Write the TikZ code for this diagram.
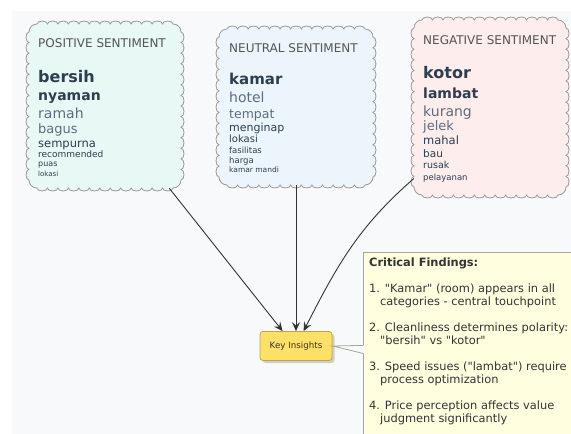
\documentclass[tikz,border=0pt]{standalone}
\usepackage{fontspec}
\setmainfont{DejaVu Sans}[Ligatures=TeXOff]
\usetikzlibrary{arrows.meta,shadows}

\definecolor{bggray}{HTML}{F8F9FA}
\definecolor{posfill}{HTML}{E8F8F5}
\definecolor{neufill}{HTML}{EBF5FB}
\definecolor{negfill}{HTML}{FDEDEC}
\definecolor{cloudline}{HTML}{9A9A9A}
\definecolor{titlecol}{HTML}{555555}
\definecolor{wordcol}{HTML}{2C3E50}
\definecolor{lightcol}{HTML}{5D6D7E}
\definecolor{keyfill}{HTML}{FFE066}
\definecolor{keyline}{HTML}{C2A444}
\definecolor{notefill}{HTML}{FFFFE0}
\definecolor{noteline}{HTML}{A8A898}
\definecolor{arrowcol}{HTML}{333333}

\newcommand{\wsize}[1]{\fontsize{#1}{#1}\selectfont}
% scalloped box: fill, x1, y1 (top left), x2, y2 (bottom right), bumps across, bumps down
\newcommand{\cloudshape}[7]{%
  \pgfmathsetmacro\bumpw{(#4-#2-16)/#6/2}%
  \pgfmathsetmacro\bumph{(#3-#5-16)/#7/2}%
  \draw[cloudline, line width=0.8pt, fill=#1] (#2+8,#3)
    \foreach \i in {1,...,#6}{arc[start angle=180, end angle=0, x radius=\bumpw, y radius=3]}
    arc[start angle=90, end angle=0, radius=8]
    \foreach \i in {1,...,#7}{arc[start angle=90, end angle=-90, x radius=3, y radius=\bumph]}
    arc[start angle=0, end angle=-90, radius=8]
    \foreach \i in {1,...,#6}{arc[start angle=0, end angle=-180, x radius=\bumpw, y radius=3]}
    arc[start angle=270, end angle=180, radius=8]
    \foreach \i in {1,...,#7}{arc[start angle=270, end angle=90, x radius=3, y radius=\bumph]}
    arc[start angle=180, end angle=90, radius=8]
    -- cycle;}

\begin{document}
\begin{tikzpicture}[x=1pt,y=1pt,
    cloudbox/.style={inner sep=0pt},
    title/.style={anchor=base west, inner sep=0pt, text=titlecol, font=\wsize{12}},
    word/.style={anchor=base west, inner sep=0pt, text=wordcol},
    keybox/.style={draw=keyline, fill=keyfill, rounded corners=3pt, line width=0.8pt,
      minimum width=72pt, minimum height=29pt, text=arrowcol, font=\wsize{8.7},
      drop shadow={shadow xshift=2.5pt, shadow yshift=-2.5pt, opacity=0.35}},
    arr/.style={draw=arrowcol, line width=0.9pt, -{Stealth[length=9pt, width=8pt, inset=3.5pt]}}]
  \useasboundingbox (0,0) rectangle (571,-434);
  \clip (0,0) rectangle (571,-434);
  \fill[bggray] (12,-11) rectangle (571,-434);

  % sentiment clouds
  \cloudshape{posfill}{29}{-24}{181}{-188}{13}{14}
  \cloudshape{neufill}{219}{-29}{373}{-185}{13}{13}
  \cloudshape{negfill}{414}{-20}{566}{-195}{13}{15}
  \node[cloudbox, minimum width=152pt, minimum height=164pt] (pos) at (105,-106) {};
  \node[cloudbox, minimum width=154pt, minimum height=156pt] (neu) at (296,-107) {};
  \node[cloudbox, minimum width=152pt, minimum height=175pt] (neg) at (490,-107.5) {};

  % positive words
  \node[title] (ptitle) at (38,-47) {POSITIVE SENTIMENT};
  \node[word, font=\wsize{16}\bfseries] (p1) at (38,-82) {bersih};
  \node[word, font=\wsize{14}\bfseries] (p2) at (38,-100) {nyaman};
  \node[word, text=lightcol, font=\wsize{14}] (p3) at (38,-118) {ramah};
  \node[word, text=lightcol, font=\wsize{13}] (p4) at (38,-133) {bagus};
  \node[word, font=\wsize{11.5}] (p5) at (38,-147) {sempurna};
  \node[word, font=\wsize{9}] (p6) at (38,-157) {recommended};
  \node[word, font=\wsize{8}] (p7) at (38,-166) {puas};
  \node[word, font=\wsize{7}] (p8) at (38,-176) {lokasi};

  % neutral words
  \node[title] (utitle) at (229,-52) {NEUTRAL SENTIMENT};
  \node[word, font=\wsize{15}\bfseries] (u1) at (229,-84) {kamar};
  \node[word, text=lightcol, font=\wsize{14}] (u2) at (229,-102) {hotel};
  \node[word, text=lightcol, font=\wsize{12.5}] (u3) at (229,-118) {tempat};
  \node[word, font=\wsize{11}] (u4) at (229,-131) {menginap};
  \node[word, font=\wsize{10}] (u5) at (229,-142) {lokasi};
  \node[word, font=\wsize{8.5}] (u6) at (229,-153) {fasilitas};
  \node[word, font=\wsize{8.5}] (u7) at (229,-163) {harga};
  \node[word, font=\wsize{7.5}] (u8) at (229,-172) {kamar mandi};

  % negative words
  \node[title] (ntitle) at (423,-44) {NEGATIVE SENTIMENT};
  \node[word, font=\wsize{16}\bfseries] (n1) at (423,-78) {kotor};
  \node[word, font=\wsize{14}\bfseries] (n2) at (423,-98) {lambat};
  \node[word, text=lightcol, font=\wsize{14}] (n3) at (423,-116) {kurang};
  \node[word, text=lightcol, font=\wsize{13}] (n4) at (423,-130) {jelek};
  \node[word, font=\wsize{11.5}] (n5) at (423,-144) {mahal};
  \node[word, font=\wsize{10.5}] (n6) at (423,-157) {bau};
  \node[word, font=\wsize{9.5}] (n7) at (423,-168) {rusak};
  \node[word, font=\wsize{8.5}] (n8) at (423,-180) {pelayanan};

  % findings note
  \node[draw=noteline, fill=notefill, line width=0.8pt, minimum width=240pt, minimum height=200pt,
    anchor=north west] (findings) at (363,-252) {};
  \node[anchor=north west, inner sep=0pt, align=left, text=arrowcol, font=\fontsize{11.4}{13}\selectfont]
    (findtxt) at (369,-258) {\textbf{Critical Findings:}\\[13pt]
    1. "Kamar" (room) appears in all\\
    \hspace*{11pt}categories - central touchpoint\\[13pt]
    2. Cleanliness determines polarity:\\
    \hspace*{11pt}"bersih" vs "kotor"\\[13pt]
    3. Speed issues ("lambat") require\\
    \hspace*{11pt}process optimization\\[13pt]
    4. Price perception affects value\\
    \hspace*{11pt}judgment significantly};

  % arrows into key insights
  \node[keybox] (keyins) at (296,-346) {Key Insights};
  \draw[arr] (pos.-52) -- (keyins.132);
  \draw[arr] (neu.south) -- (keyins.north);
  \draw[arr] (neg.223) to[out=221, in=63] (keyins.63);

  % note pointer
  \fill[notefill] (keyins.east) -- ([yshift=7pt]findings.west) -- ([yshift=-1pt]findings.west)
    -- ([xshift=1pt,yshift=-1pt]findings.west) -- ([xshift=1pt,yshift=7pt]findings.west) -- cycle;
  \draw[noteline, line width=0.8pt] ([yshift=7pt]findings.west) -- (keyins.east) -- ([yshift=-1pt]findings.west);
\end{tikzpicture}
\end{document}
